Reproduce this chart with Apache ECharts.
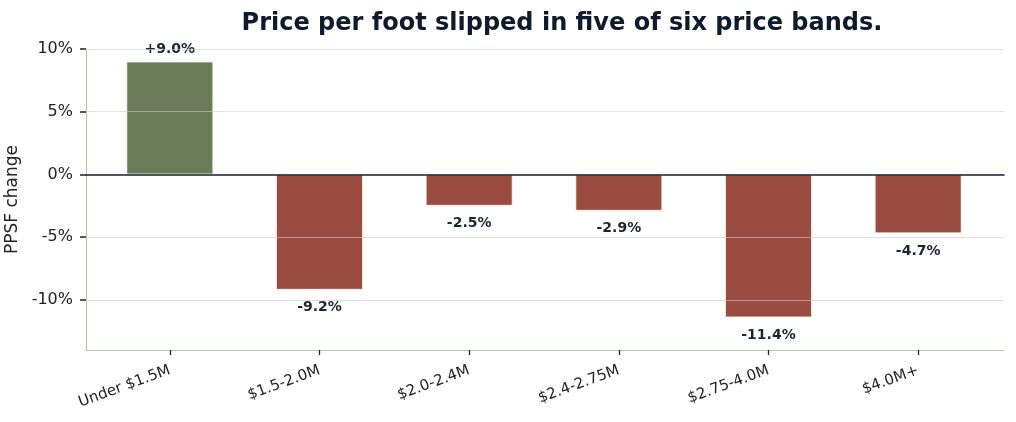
<!DOCTYPE html>
<html>
<head>
<meta charset="utf-8">
<script src="https://cdn.jsdelivr.net/npm/echarts@6/dist/echarts.min.js"></script>
<style>
  html, body { margin: 0; padding: 0; background: #fff; }
  #container { width: 1016px; height: 422px; }
</style>
</head>
<body>
<div id="container"></div>
<script>
var bands = ['Under $1.5M', '$1.5-2.0M', '$2.0-2.4M', '$2.4-2.75M', '$2.75-4.0M', '$4.0M+'];
var ppsfChange = [9.0, -9.2, -2.5, -2.9, -11.4, -4.7];
var yTicks = [-10, -5, 0, 5, 10];

document.addEventListener('DOMContentLoaded', function () {
    var chartDom = document.getElementById('container');
    var myChart = echarts.init(chartDom, null, { renderer: 'canvas' });
    var font = 'DejaVu Sans, sans-serif';
    var ink = '#1b2433';
    var frame = '#cbbdb3';

    var option = {
        animation: false,
        title: {
            text: 'Price per foot slipped in five of six price bands.',
            left: 557,
            textAlign: 'center',
            top: 7,
            textStyle: { fontFamily: font, fontSize: 24, fontWeight: 'bold', color: '#0f1b2d' }
        },
        // grid 0 = frame, gridlines, y labels; grid 1 = bars (narrower so bands match)
        grid: [
            { left: 86, right: 12, top: 49, bottom: 72, outerBoundsMode: 'none' },
            { left: 95, right: 23, top: 49, bottom: 72, outerBoundsMode: 'none' }
        ],
        xAxis: [
            {
                gridIndex: 0, type: 'value', min: 0, max: 1, position: 'bottom',
                axisLine: { onZero: false, lineStyle: { color: frame, width: 1.2 } },
                axisTick: { show: false }, axisLabel: { show: false }, splitLine: { show: false }
            },
            {
                gridIndex: 0, type: 'value', min: 0, max: 1, position: 'top', z: 5,
                axisLine: { onZero: true, lineStyle: { color: '#142238', width: 1.6 } },
                axisTick: { show: false }, axisLabel: { show: false }, splitLine: { show: false }
            },
            {
                gridIndex: 1, type: 'category', data: bands, position: 'bottom',
                axisLine: { show: false, onZero: false },
                axisTick: { show: true, alignWithLabel: true, length: 5, lineStyle: { color: '#222', width: 1.3 } },
                axisLabel: { rotate: 20, fontFamily: font, fontSize: 15, color: '#222', margin: 20 }
            }
        ],
        yAxis: [
            {
                gridIndex: 0, type: 'value', min: -14, max: 10, splitNumber: 5,
                name: 'PPSF change', nameLocation: 'middle', nameGap: 48,
                nameTextStyle: { fontFamily: font, fontSize: 17, color: '#222' },
                axisLine: { show: true, onZero: false, lineStyle: { color: frame, width: 1.2 } },
                axisTick: { show: false },
                axisLabel: {
                    fontFamily: font, fontSize: 16, color: '#222', margin: 13,
                    formatter: function (v) { return yTicks.indexOf(v) >= 0 ? v + '%' : ''; }
                },
                splitLine: { show: false }
            },
            {
                gridIndex: 0, type: 'value', min: -14, max: 10, splitNumber: 5, z: 4,
                position: 'left', show: true,
                axisLine: { show: false },
                axisTick: { show: true, length: 6, customValues: yTicks, lineStyle: { color: '#222', width: 1.5 } },
                axisLabel: { show: false },
                splitLine: { show: true, lineStyle: { color: 'rgba(205,205,205,0.6)', width: 1.2 } }
            },
            {
                gridIndex: 1, type: 'value', min: -14, max: 10, show: false,
                splitLine: { show: false }
            }
        ],
        series: [
            {
                name: 'PPSF change',
                type: 'bar',
                xAxisIndex: 2,
                yAxisIndex: 2,
                barWidth: 87,
                data: ppsfChange.map(function (v) {
                    return {
                        value: v,
                        itemStyle: {
                            color: v >= 0 ? '#6b7b57' : '#9b4c40',
                            borderColor: 'rgba(255,255,255,0.7)',
                            borderWidth: 1
                        },
                        label: { position: v >= 0 ? 'top' : 'bottom', distance: v >= 0 ? 5 : 11 }
                    };
                }),
                label: {
                    show: true,
                    fontFamily: font,
                    fontSize: 14,
                    fontWeight: 'bold',
                    color: ink,
                    formatter: function (p) {
                        return (p.value > 0 ? '+' : '') + p.value.toFixed(1) + '%';
                    }
                }
            }
        ]
    };

    option && myChart.setOption(option);
});
</script>
</body>
</html>
